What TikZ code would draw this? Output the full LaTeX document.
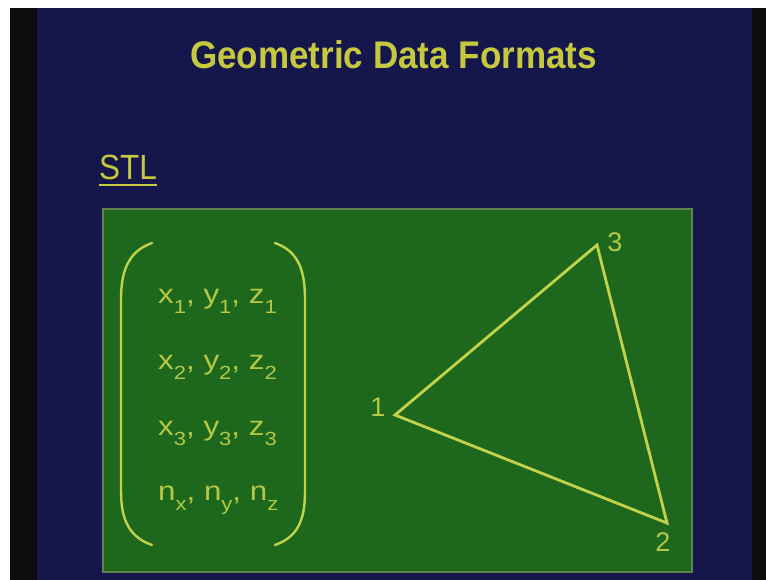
\documentclass[tikz,border=0pt]{standalone}
\usepackage{fontspec}
\setmainfont{Liberation Sans}
\usepackage{graphicx}
\definecolor{navy}{HTML}{15174C}
\definecolor{slidegreen}{HTML}{1D681D}
\definecolor{boxedge}{HTML}{5E8250}
\definecolor{titleyel}{HTML}{C6C83E}
\definecolor{txtyel}{HTML}{B4C846}
\definecolor{lineyel}{HTML}{C2D24A}
\newcommand{\sbs}[1]{\raisebox{-0.4em}{\fontsize{19}{19}\selectfont #1}}
\tikzset{
  rowtext/.style={anchor=base west, inner sep=0pt, text=txtyel, font=\fontsize{27}{27}\selectfont},
  vlabel/.style={inner sep=0pt, text=txtyel, font=\fontsize{27}{27}\selectfont},
  paren/.style={draw=lineyel, line width=2.4pt, line cap=round},
  tri/.style={draw=lineyel, line width=2.8pt, line join=miter}
}
\begin{document}
\begin{tikzpicture}[x=1pt,y=-1pt]
\useasboundingbox (0,0) rectangle (766,580);
\fill[white] (0,0) rectangle (766,580);
\fill[black!95] (10,8) rectangle (766,580);
\fill[navy] (37,8) rectangle (752,580);
% title
\node[anchor=base, inner sep=0pt, text=titleyel, font=\fontsize{38.5}{38.5}\selectfont\bfseries] (title) at (393.5,69) {\scalebox{0.91}[1]{Geometric Data Formats}};
% STL
\node[anchor=base west, inner sep=0pt, text=titleyel, font=\fontsize{35}{35}\selectfont] (stl) at (99,180) {\scalebox{0.9}[1]{STL}};
\draw[titleyel, line width=2pt] (stl.south west |- 0,185) coordinate (ul1) -- (stl.south east |- 0,185) coordinate (ul2);
% green panel
\draw[fill=slidegreen, draw=boxedge, line width=1.2pt] (103,209) rectangle (692,572);
% parentheses
\draw[paren] (152,243) .. controls (126,252) and (121,275) .. (121,300) -- (121,490) .. controls (121,515) and (126,536) .. (152,545);
\draw[paren] (275,243) .. controls (301,252) and (305,275) .. (305,300) -- (305,490) .. controls (305,515) and (301,536) .. (275,545);
% rows
\node[rowtext] (r1) at (158,303) {\scalebox{1.16}[1]{x\sbs{1}, y\sbs{1}, z\sbs{1}}};
\node[rowtext] (r2) at (158,369) {\scalebox{1.16}[1]{x\sbs{2}, y\sbs{2}, z\sbs{2}}};
\node[rowtext] (r3) at (158,435) {\scalebox{1.16}[1]{x\sbs{3}, y\sbs{3}, z\sbs{3}}};
\node[rowtext] (r4) at (158,500) {\scalebox{1.16}[1]{n\sbs{x}, n\sbs{y}, n\sbs{z}}};
% triangle
\coordinate (v1) at (395,415);
\coordinate (v2) at (667,523);
\coordinate (v3) at (597,245);
\draw[tri] (v1) -- (v2) -- (v3) -- cycle;
\node[vlabel] (l1) at (378,407) {1};
\node[vlabel] (l3) at (615,242) {3};
\node[vlabel] (l2) at (663,542) {2};
\end{tikzpicture}
\end{document}
